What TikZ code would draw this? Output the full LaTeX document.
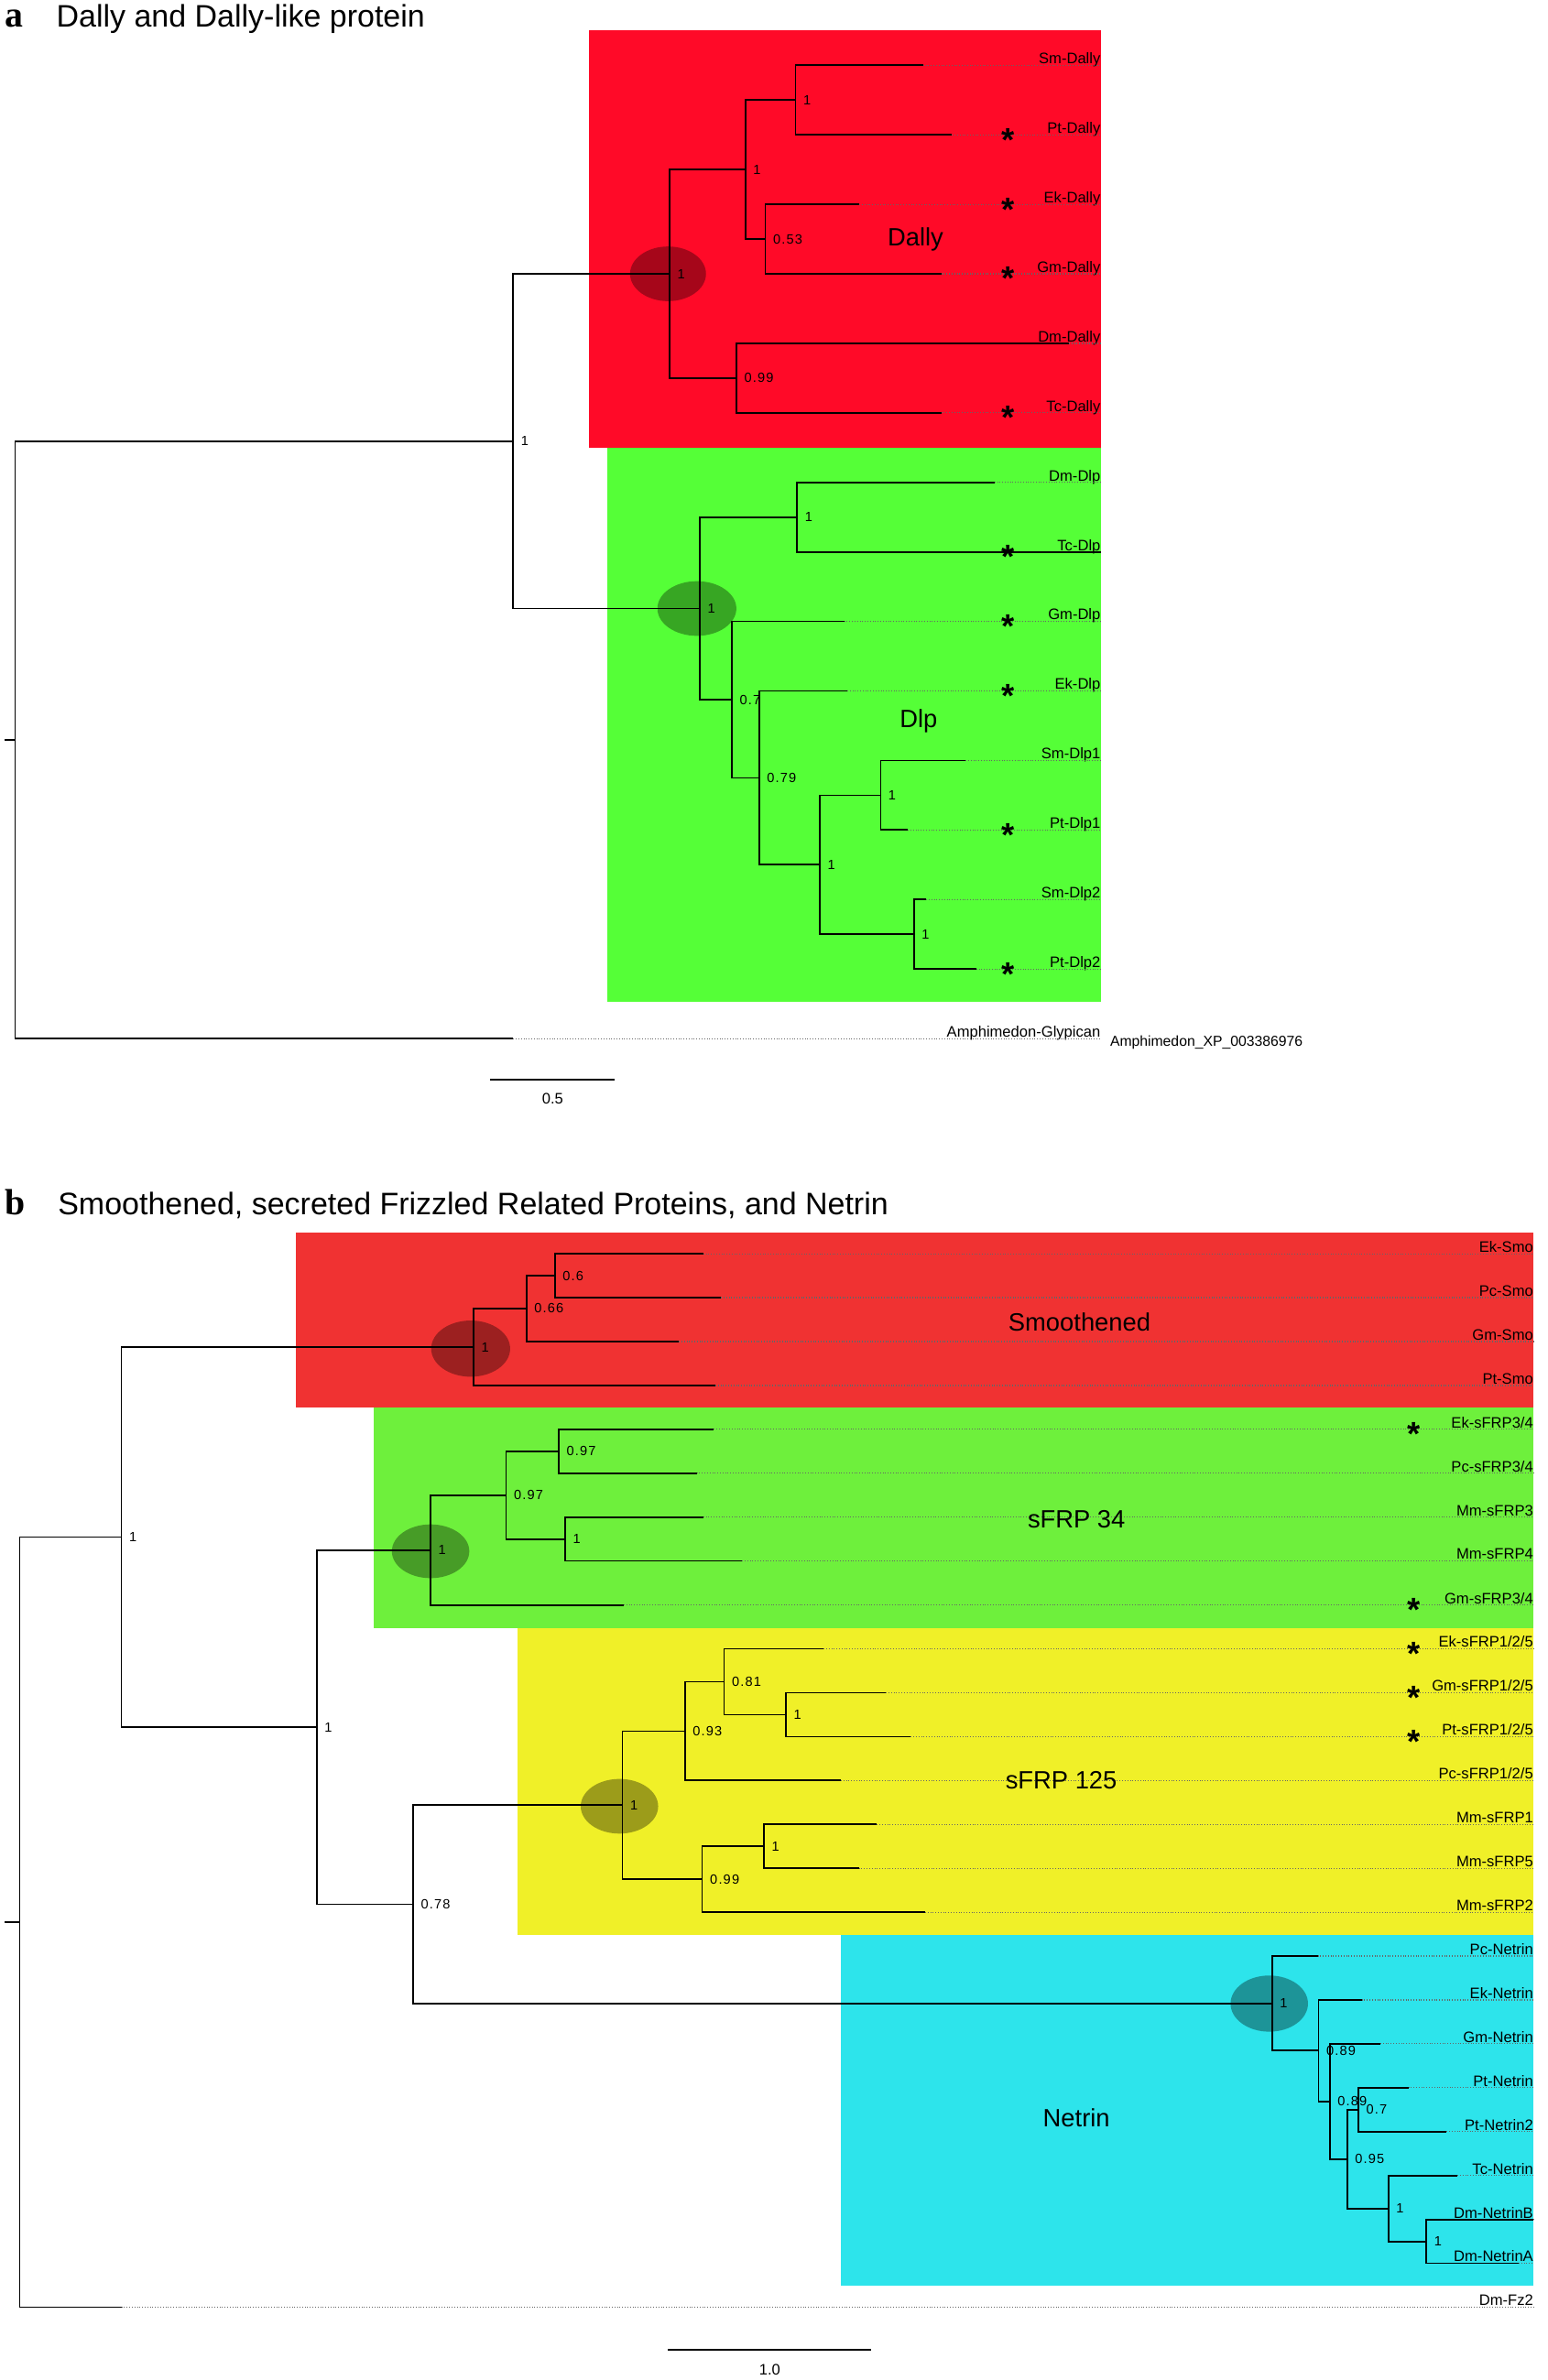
\documentclass[tikz,border=0pt]{standalone}
\usepackage{fontspec}
\setmainfont{Liberation Sans}
\newfontfamily\serifbf{Liberation Serif}
\definecolor{aRed}{RGB}{255,10,40}
\definecolor{aGreen}{RGB}{85,255,55}
\definecolor{bRed}{RGB}{240,50,50}
\definecolor{bGreen}{RGB}{110,240,60}
\definecolor{bYellow}{RGB}{240,240,40}
\definecolor{bCyan}{RGB}{45,228,235}
\tikzset{
  br/.style={line width=1.05pt, line join=miter},
  dots/.style={line width=0.7pt, black!60, dash pattern=on 0.6pt off 1.1pt},
  lbl/.style={anchor=base east, inner sep=0pt, font=\fontsize{10}{12}\selectfont},
  sup/.style={anchor=west, inner sep=0pt, xshift=5pt, font=\fontsize{8.8}{10}\selectfont\addfontfeature{LetterSpace=8}},
  clade/.style={inner sep=0pt, font=\fontsize{16.5}{18}\selectfont},
  starm/.style={anchor=base, inner sep=0pt, font=\fontsize{22}{22}\selectfont\bfseries},
  ellf/.style={fill=black, fill opacity=0.35},
  bar/.style={line width=1.2pt},
  barlbl/.style={inner sep=0pt, font=\fontsize{10}{12}\selectfont},
  plabel/.style={anchor=base west, inner sep=0pt, font=\fontsize{24}{24}\selectfont\serifbf\bfseries},
  ptitle/.style={anchor=base west, inner sep=0pt, font=\fontsize{20.5}{24}\selectfont}
}
\newcommand\inode[5]{%
  \coordinate (#1) at (#3,#4);
  \draw[br] (#2) |- (#1);
  \node[sup] (#1s) at (#1) {#5};}
\newcommand\leaf[5]{%
  \coordinate (#1) at (#3,#4);
  \draw[br] (#2) |- (#1);
  \node[lbl] (#1l) at (\redge,{#4-1}) {#5};
  \draw[dots] (#1) -- (#1 -| #1l.east);}
\newcommand\st[3]{\node[starm] (#1) at (#2,{#3+10.8}) {*};}
\begin{document}
\begin{tikzpicture}[x=1pt,y=-1pt]
\useasboundingbox (0,0) rectangle (1019,1568);
% ================= panel a =================
\node[plabel] (ta) at (3,17.7) {a};
\node[ptitle] (tat) at (37,17.7) {Dally and Dally-like protein};
\fill[aRed] (388,20) rectangle (725,295);
\fill[aGreen] (400,295) rectangle (725,660);
\fill[ellf] (440,180.4) ellipse [x radius=25, y radius=18];
\fill[ellf] (459,400.9) ellipse [x radius=26, y radius=18];
\def\redge{725}
\coordinate (aR) at (10,487.4);
\coordinate (aRs) at (3,487.4);
\draw[br] (aRs) -- (aR);
\inode{aI}{aR}{338}{290.6}{1}
\inode{aD}{aI}{441}{180.4}{1}
\inode{aD1}{aD}{491}{111.7}{1}
\inode{aD2}{aD1}{524}{65.9}{1}
\leaf{aSmDa}{aD2}{608}{43}{Sm-Dally}
\leaf{aPtDa}{aD2}{627}{88.8}{Pt-Dally}
\inode{aD3}{aD1}{504}{157.5}{0.53}
\leaf{aEkDa}{aD3}{566}{134.6}{Ek-Dally}
\leaf{aGmDa}{aD3}{620}{180.4}{Gm-Dally}
\inode{aD4}{aD}{485}{249.1}{0.99}
\leaf{aDmDa}{aD4}{704}{226.2}{Dm-Dally}
\leaf{aTcDa}{aD4}{620}{272}{Tc-Dally}
\inode{aL}{aI}{461}{400.9}{1}
\inode{aL1}{aL}{525}{340.7}{1}
\leaf{aDmDl}{aL1}{655}{317.8}{Dm-Dlp}
\leaf{aTcDl}{aL1}{725}{363.6}{Tc-Dlp}
\inode{aL2}{aL}{482}{461}{0.7}
\leaf{aGmDl}{aL2}{556}{409.4}{Gm-Dlp}
\inode{aL3}{aL2}{500}{512.5}{0.79}
\leaf{aEkDl}{aL3}{558}{455.2}{Ek-Dlp}
\inode{aL4}{aL3}{540}{569.7}{1}
\inode{aL5}{aL4}{580}{523.9}{1}
\leaf{aSmDl1}{aL5}{636}{501}{Sm-Dlp1}
\leaf{aPtDl1}{aL5}{598}{546.8}{Pt-Dlp1}
\inode{aL6}{aL4}{602}{615.5}{1}
\leaf{aSmDl2}{aL6}{610}{592.6}{Sm-Dlp2}
\leaf{aPtDl2}{aL6}{643}{638.4}{Pt-Dlp2}
\leaf{aAmph}{aR}{338}{684.2}{Amphimedon-Glypican}
\node[anchor=base west, inner sep=0pt, font=\fontsize{9.5}{11}\selectfont] (aXP) at (731,689.5) {Amphimedon\_XP\_003386976};
\node[clade] (cDally) at (603,158) {Dally};
\node[clade] (cDlp) at (605,475) {Dlp};
\st{sa1}{664}{88.8}
\st{sa2}{664}{134.6}
\st{sa3}{664}{180.4}
\st{sa4}{664}{272}
\st{sa5}{664}{363.6}
\st{sa6}{664}{409.4}
\st{sa7}{664}{455.2}
\st{sa8}{664}{546.8}
\st{sa9}{664}{638.4}
\coordinate (sbA1) at (323,711);
\coordinate (sbA2) at (405,711);
\draw[bar] (sbA1) -- (sbA2);
\node[barlbl] (sbAl) at (364,724) {0.5};
% ================= panel b =================
\node[plabel] (tb) at (3,800.5) {b};
\node[ptitle] (tbt) at (38,800.5) {Smoothened, secreted Frizzled Related Proteins, and Netrin};
\fill[bRed] (195,812) rectangle (1010,927.5);
\fill[bGreen] (246,927.5) rectangle (1010,1072.5);
\fill[bYellow] (341,1072.5) rectangle (1010,1275);
\fill[bCyan] (554,1275) rectangle (1010,1506);
\fill[ellf] (310,888.5) ellipse [x radius=26, y radius=18.5];
\fill[ellf] (283.6,1022) ellipse [x radius=25.5, y radius=17.7];
\fill[ellf] (408,1190) ellipse [x radius=25.5, y radius=18];
\fill[ellf] (836,1320) ellipse [x radius=25.5, y radius=18.5];
\def\redge{1010}
\coordinate (bR) at (13,1266.4);
\coordinate (bRs) at (3,1266.4);
\draw[br] (bRs) -- (bR);
\inode{bA}{bR}{80}{1012.7}{1}
\inode{bS}{bA}{311.9}{887.5}{1}
\inode{bS1}{bS}{346.7}{862.1}{0.66}
\inode{bS2}{bS1}{365.4}{840.5}{0.6}
\leaf{bEkSmo}{bS2}{463.2}{826}{Ek-Smo}
\leaf{bPcSmo}{bS2}{474.9}{854.9}{Pc-Smo}
\leaf{bGmSmo}{bS1}{447.1}{883.8}{Gm-Smo}
\leaf{bPtSmo}{bS}{471.2}{912.8}{Pt-Smo}
\inode{bB}{bA}{208.6}{1137.9}{1}
\inode{bF}{bB}{283.6}{1021.2}{1}
\inode{bF1}{bF}{333.3}{985.1}{0.97}
\inode{bF2}{bF1}{368}{956.2}{0.97}
\leaf{bEkF34}{bF2}{470.1}{941.7}{Ek-sFRP3/4}
\leaf{bPcF34}{bF2}{458.9}{970.6}{Pc-sFRP3/4}
\inode{bF3}{bF1}{372.3}{1014}{1}
\leaf{bMm3}{bF3}{463.2}{999.5}{Mm-sFRP3}
\leaf{bMm4}{bF3}{488.8}{1028.4}{Mm-sFRP4}
\leaf{bGmF34}{bF}{410.8}{1057.4}{Gm-sFRP3/4}
\inode{bC}{bB}{272.1}{1254.6}{0.78}
\inode{bG}{bC}{409.9}{1189.3}{1}
\inode{bG1}{bG}{451.1}{1140.5}{0.93}
\inode{bG2}{bG1}{476.9}{1108}{0.81}
\leaf{bEkF125}{bG2}{542.4}{1086.3}{Ek-sFRP1/2/5}
\inode{bG3}{bG2}{517.6}{1129.7}{1}
\leaf{bGmF125}{bG3}{583.5}{1115.2}{Gm-sFRP1/2/5}
\leaf{bPtF125}{bG3}{599.9}{1144.1}{Pt-sFRP1/2/5}
\leaf{bPcF125}{bG1}{553.8}{1173}{Pc-sFRP1/2/5}
\inode{bG4}{bG}{462.5}{1238.1}{0.99}
\inode{bG5}{bG4}{503.2}{1216.4}{1}
\leaf{bMm1}{bG5}{577.6}{1201.9}{Mm-sFRP1}
\leaf{bMm5}{bG5}{565.7}{1230.9}{Mm-sFRP5}
\leaf{bMm2}{bG4}{609.3}{1259.8}{Mm-sFRP2}
\inode{bN}{bC}{837.9}{1319.9}{1}
\leaf{bPcN}{bN}{867.9}{1288.7}{Pc-Netrin}
\inode{bN1}{bN}{868.5}{1351}{0.89}
\leaf{bEkN}{bN1}{896.9}{1317.6}{Ek-Netrin}
\inode{bN2}{bN1}{875.9}{1384.5}{0.89}
\leaf{bGmN}{bN2}{909.2}{1346.5}{Gm-Netrin}
\inode{bN3}{bN2}{887.3}{1422.4}{0.95}
\inode{bN4}{bN3}{894.7}{1389.9}{0.7}
\leaf{bPtN}{bN4}{927.6}{1375.4}{Pt-Netrin}
\leaf{bPtN2}{bN4}{952.8}{1404.4}{Pt-Netrin2}
\inode{bN5}{bN3}{914.4}{1455}{1}
\leaf{bTcN}{bN5}{959.9}{1433.3}{Tc-Netrin}
\inode{bN6}{bN5}{939.5}{1476.7}{1}
\leaf{bDmNB}{bN6}{1009.9}{1462.2}{Dm-NetrinB}
\leaf{bDmNA}{bN6}{1000.2}{1491.1}{Dm-NetrinA}
\leaf{bFz2}{bR}{80}{1520}{Dm-Fz2}
\node[clade] (cSmo) at (711,871) {Smoothened};
\node[clade] (cF34) at (709,1001) {sFRP 34};
\node[clade] (cF125) at (699,1173) {sFRP 125};
\node[clade] (cNet) at (709,1395) {Netrin};
\st{sb1}{931}{941.7}
\st{sb2}{931}{1057.4}
\st{sb3}{931}{1086.3}
\st{sb4}{931}{1115.2}
\st{sb5}{931}{1144.1}
\coordinate (sbB1) at (440,1548);
\coordinate (sbB2) at (574,1548);
\draw[bar] (sbB1) -- (sbB2);
\node[barlbl] (sbBl) at (507,1561) {1.0};
\end{tikzpicture}
\end{document}
